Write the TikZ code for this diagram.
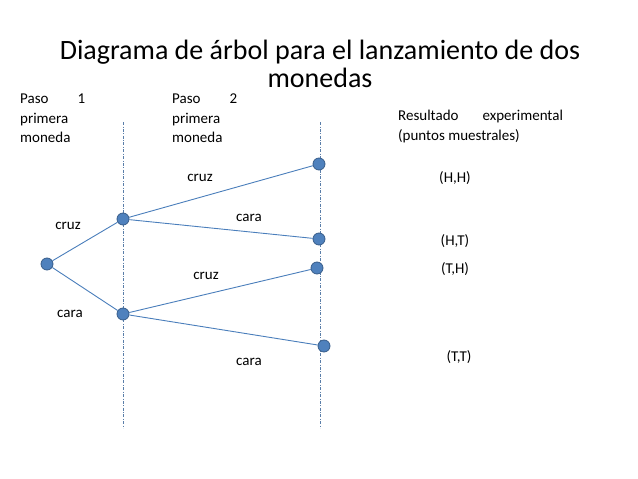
\documentclass[tikz,border=0pt]{standalone}
\usepackage{fontspec}
\setmainfont{Carlito}
\usepackage{xcolor}
\definecolor{dotBlue}{HTML}{4F81BD}
\definecolor{dotEdge}{HTML}{385D8A}
\definecolor{lineBlue}{HTML}{4A7EBB}
\usepackage{tikz}
\usetikzlibrary{positioning}

\begin{document}
\begin{tikzpicture}[
		x=1pt, y=-1pt,
		dot/.style={
			circle,
			fill=dotBlue,
			draw=dotEdge,
			line width=0.8pt,
			inner sep=0pt,
			minimum size=12pt
		},
		lbl/.style={
			font=\fontsize{15}{19.5}\selectfont,
			inner sep=0pt,
			align=left
		},
		branch/.style={lineBlue, line width=0.9pt},
		guide/.style={lineBlue!70!gray, line width=0.6pt, dash pattern=on 3pt off 1.5pt on 0.8pt off 1.5pt}
		]
		
		\useasboundingbox (0,0) rectangle (638,479);
		
		% titulo
		\node[font=\fontsize{28}{28}\selectfont, align=center] (title) at (320,64)
			{Diagrama de árbol para el lanzamiento de dos\\monedas};
		
		% encabezados
		\node[lbl, anchor=north west] (paso1) at (20,94) {Paso\hspace{29pt}1\\primera\\moneda};
		\node[lbl, anchor=north west] (paso2) at (172,94) {Paso\hspace{29pt}2\\primera\\moneda};
		\node[lbl, anchor=north west] (res) at (398,110) {Resultado\hspace{24pt}experimental\\(puntos muestrales)};
		
		% lineas guia
		\coordinate (g1top) at (123,122);
		\coordinate (g1bot) at (123,428);
		\coordinate (g2top) at (320,122);
		\coordinate (g2bot) at (320,428);
		\draw[guide] (g1top) -- (g1bot);
		\draw[guide] (g2top) -- (g2bot);
		
		% nodos del arbol
		\node[dot] (root) at (47,264) {};
		\node[dot] (h) at (123,219) {};
		\node[dot] (t) at (123,314) {};
		\node[dot] (hh) at (319,164) {};
		\node[dot] (ht) at (319,239) {};
		\node[dot] (th) at (317,268) {};
		\node[dot] (tt) at (324,346) {};
		
		\draw[branch] (root) -- (h);
		\draw[branch] (root) -- (t);
		\draw[branch] (h) -- (hh);
		\draw[branch] (h) -- (ht);
		\draw[branch] (t) -- (th);
		\draw[branch] (t) -- (tt);
		
		% etiquetas de ramas
		\node[lbl] (l1) at (68,226) {cruz};
		\node[lbl] (l2) at (70,314) {cara};
		\node[lbl] (l3) at (200,178) {cruz};
		\node[lbl] (l4) at (249,218) {cara};
		\node[lbl] (l5) at (206,276) {cruz};
		\node[lbl] (l6) at (249,362) {cara};
		
		% resultados
		\node[lbl] (r1) at (455,178) {(H,H)};
		\node[lbl] (r2) at (455,241) {(H,T)};
		\node[lbl] (r3) at (455,269) {(T,H)};
		\node[lbl] (r4) at (459,357) {(T,T)};
		
	\end{tikzpicture}
\end{document}
